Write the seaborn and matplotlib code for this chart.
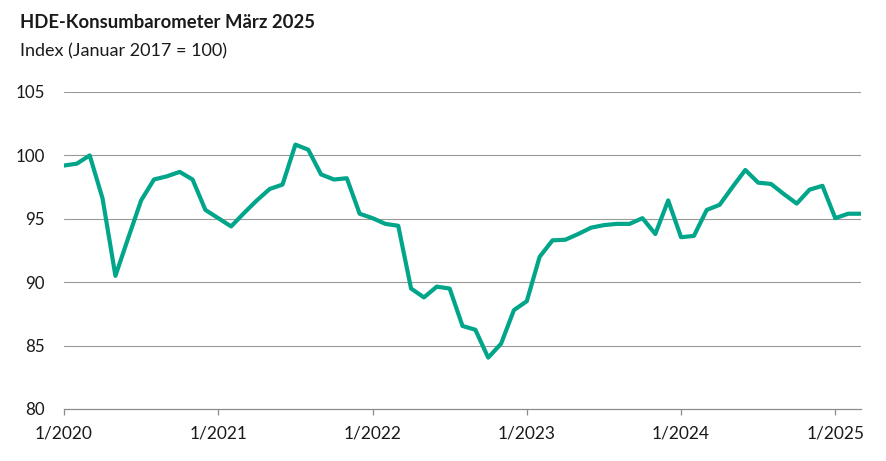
import matplotlib
matplotlib.use("Agg")
import matplotlib.pyplot as plt
import seaborn as sns
import pandas as pd

months = [f"{m}/{y}" for y in range(2020, 2026) for m in range(1, 13)][:63]
values = [
    99.2, 99.35, 100.0, 96.6, 90.5, 93.5, 96.45, 98.1, 98.35, 98.7, 98.1, 95.7,   # 2020
    95.05, 94.4, 95.45, 96.45, 97.35, 97.7, 100.85, 100.45, 98.5, 98.1, 98.2, 95.4,  # 2021
    95.05, 94.6, 94.45, 89.5, 88.8, 89.65, 89.5, 86.55, 86.25, 84.05, 85.15, 87.8,  # 2022
    88.5, 92.0, 93.3, 93.35, 93.8, 94.3, 94.5, 94.6, 94.6, 95.05, 93.8, 96.45,      # 2023
    93.55, 93.65, 95.7, 96.1, 97.5, 98.85, 97.85, 97.75, 96.95, 96.2, 97.3, 97.6,   # 2024
    95.05, 95.4, 95.4,                                                              # 2025
]
x_tick_labels = ["1/2020", "1/2021", "1/2022", "1/2023", "1/2024", "1/2025"]
y_ticks = [80, 85, 90, 95, 100, 105]
title = "HDE-Konsumbarometer März 2025"
subtitle = "Index (Januar 2017 = 100)"

df = pd.DataFrame({"idx": range(len(values)), "month": months, "value": values})

sns.set_theme(style="white")
plt.rcParams["font.family"] = ["Lato", "DejaVu Sans"]

W, H = 886, 461
fig = plt.figure(figsize=(W / 100, H / 100), dpi=100)
ax = fig.add_axes([64 / W, 52 / H, (861 - 64) / W, (409 - 92) / H])

for yv in y_ticks[1:]:
    ax.axhline(yv, color="#999999", lw=0.8, zorder=1)

sns.lineplot(data=df, x="idx", y="value", ax=ax, color="#00a58a", lw=3.0, zorder=3)

ax.set_xlim(0, len(values) - 1)
ax.set_ylim(80, 105)
ax.set_xticks([months.index(l) for l in x_tick_labels])
ax.set_xticklabels(x_tick_labels)
ax.set_yticks(y_ticks)
ax.set_yticklabels([str(v) for v in y_ticks])
ax.set_xlabel("")
ax.set_ylabel("")
for s in ["top", "right", "left"]:
    ax.spines[s].set_visible(False)
ax.spines["bottom"].set_color("#8c8c8c")
ax.spines["bottom"].set_linewidth(0.9)
ax.tick_params(axis="x", length=4, width=0.9, color="#8c8c8c", labelsize=12.5,
               labelcolor="#1a1a1a", pad=8, bottom=True)
ax.tick_params(axis="y", length=0, labelsize=12.2, labelcolor="#1a1a1a", pad=14)

fig.text(20 / W, 1 - 22 / H, title, fontsize=13.3, fontweight="bold", color="#1a1a1a",
         ha="left", va="center")
fig.text(20 / W, 1 - 51 / H, subtitle, fontsize=13, color="#1a1a1a",
         ha="left", va="center")

fig.savefig("out.png", dpi=100)
